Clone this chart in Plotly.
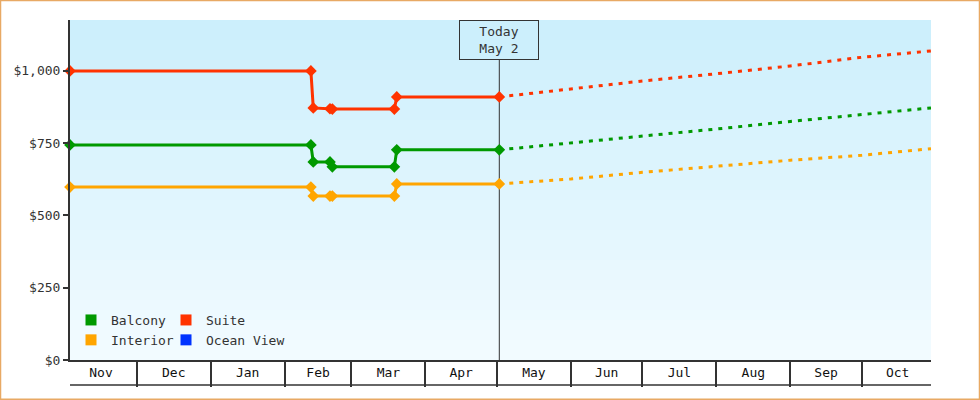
import plotly.graph_objects as go

# Historical cabin prices (solid lines with diamond markers)
fechas_hist = ["2022-11-03", "2023-02-12", "2023-02-13", "2023-02-20", "2023-02-21",
               "2023-03-19", "2023-03-20", "2023-05-02"]
balcony_hist = [744, 744, 685, 685, 668, 668, 727, 727]
suite_hist = [1000, 1000, 872, 869, 868, 868, 910, 910]
interior_hist = [598, 598, 567, 567, 567, 567, 609, 609]

# Projected prices (dashed)
fechas_proj = ["2023-05-02", "2023-06-01", "2023-07-01", "2023-08-01", "2023-09-01",
               "2023-10-01", "2023-10-30"]
balcony_proj = [727, 750, 774, 799, 825, 849, 872]
suite_proj = [910, 938, 965, 990, 1017, 1047, 1069]
interior_proj = [609, 626, 649, 671, 691, 708, 731]

series = ["Balcony", "Interior", "Suite", "Ocean View"]
colores = {"Balcony": "#009900", "Interior": "#ffa500", "Suite": "#ff3300", "Ocean View": "#0033ff"}
leyenda = {"Balcony": "legend", "Interior": "legend", "Suite": "legend2", "Ocean View": "legend2"}

hoy = "2023-05-02"
y_ticks = [0, 250, 500, 750, 1000]

FUENTE = "DejaVu Sans Mono"
GRIS = "#333333"

fig = go.Figure()

datos = {
    "Balcony": (balcony_hist, balcony_proj),
    "Suite": (suite_hist, suite_proj),
    "Interior": (interior_hist, interior_proj),
}

for nombre, (hist, proj) in datos.items():
    fig.add_trace(go.Scatter(
        x=fechas_proj, y=proj, mode="lines", showlegend=False, hoverinfo="skip",
        line=dict(color=colores[nombre], width=3, dash="4px,6px"),
    ))
    fig.add_trace(go.Scatter(
        x=fechas_hist, y=hist, mode="lines+markers", showlegend=False, cliponaxis=False,
        line=dict(color=colores[nombre], width=3),
        marker=dict(symbol="diamond", size=9, color=colores[nombre]),
    ))

# entradas de leyenda con cuadrados
for nombre in series:
    fig.add_trace(go.Scatter(
        x=[None], y=[None], mode="markers", name=nombre, legend=leyenda[nombre],
        marker=dict(symbol="square", size=11, color=colores[nombre]),
    ))

# fondo degradado
n_bandas = 34
arriba = (204, 239, 252)
abajo = (242, 251, 255)
for i in range(n_bandas):
    t = i / (n_bandas - 1)
    c = tuple(round(abajo[k] + (arriba[k] - abajo[k]) * t) for k in range(3))
    fig.add_shape(type="rect", xref="paper", yref="paper",
                  x0=0, x1=1, y0=i / n_bandas, y1=(i + 1) / n_bandas,
                  fillcolor="rgb(%d,%d,%d)" % c, line_width=0, layer="below")

# linea de hoy
fig.add_shape(type="line", xref="x", yref="paper", x0=hoy, x1=hoy, y0=0, y1=1,
              line=dict(color=GRIS, width=1), layer="below")
fig.add_annotation(
    x=hoy, xref="x", y=1, yref="paper", yanchor="top", xanchor="center",
    text="Today<br>May 2", showarrow=False,
    font=dict(family=FUENTE, size=13, color=GRIS),
    bgcolor="rgb(%d,%d,%d)" % arriba, bordercolor=GRIS, borderwidth=1, borderpad=0,
    width=78, height=38,
)

# linea inferior de la banda de meses
ancho_plot = 980 - 70 - 49
alto_plot = 400 - 20 - 40
fig.add_shape(type="line", xref="paper", yref="paper", x0=0, x1=1,
              y0=-25 / alto_plot, y1=-25 / alto_plot, line=dict(color=GRIS, width=1.5))

# borde exterior
fig.add_shape(type="rect", xref="paper", yref="paper",
              x0=(0.5 - 70) / ancho_plot, x1=(979.5 - 70) / ancho_plot,
              y0=(360 - 399.3) / alto_plot, y1=(360 - 0.5) / alto_plot,
              line=dict(color="#e8a964", width=1.5))

fig.update_xaxes(
    type="date", range=["2022-11-03", "2023-10-30"],
    tick0="2022-11-01", dtick="M1", tickformat="%b", ticklabelmode="period",
    ticks="outside", ticklen=25, tickwidth=1.5, tickcolor=GRIS,
    ticklabelstandoff=-26,
    showline=True, linecolor=GRIS, linewidth=2, showgrid=False, zeroline=False,
    tickfont=dict(family=FUENTE, size=13, color="#111111"),
)
fig.update_yaxes(
    range=[0, 1176], tickvals=y_ticks, tickformat="$,.0f",
    ticks="outside", ticklen=5, tickwidth=2, tickcolor=GRIS,
    showline=True, linecolor=GRIS, linewidth=2, showgrid=False, zeroline=False,
    tickfont=dict(family=FUENTE, size=13, color=GRIS),
)

estilo_leyenda = dict(
    yanchor="top", y=55 / alto_plot, bgcolor="rgba(0,0,0,0)", tracegroupgap=0,
    font=dict(family=FUENTE, size=13, color=GRIS), itemclick=False,
)
fig.update_layout(
    width=980, height=400,
    margin=dict(l=70, r=49, t=20, b=40),
    paper_bgcolor="white", plot_bgcolor="rgb(%d,%d,%d)" % abajo,
    font=dict(family=FUENTE, size=13, color=GRIS),
    legend=dict(x=1 / ancho_plot, **estilo_leyenda),
    legend2=dict(x=96 / ancho_plot, **estilo_leyenda),
    hovermode="closest",
)

# sin margen del body para que la figura ocupe la ventana
fig.write_html("out.html", config={"displayModeBar": False},
               post_script="document.body.style.margin='0';")
